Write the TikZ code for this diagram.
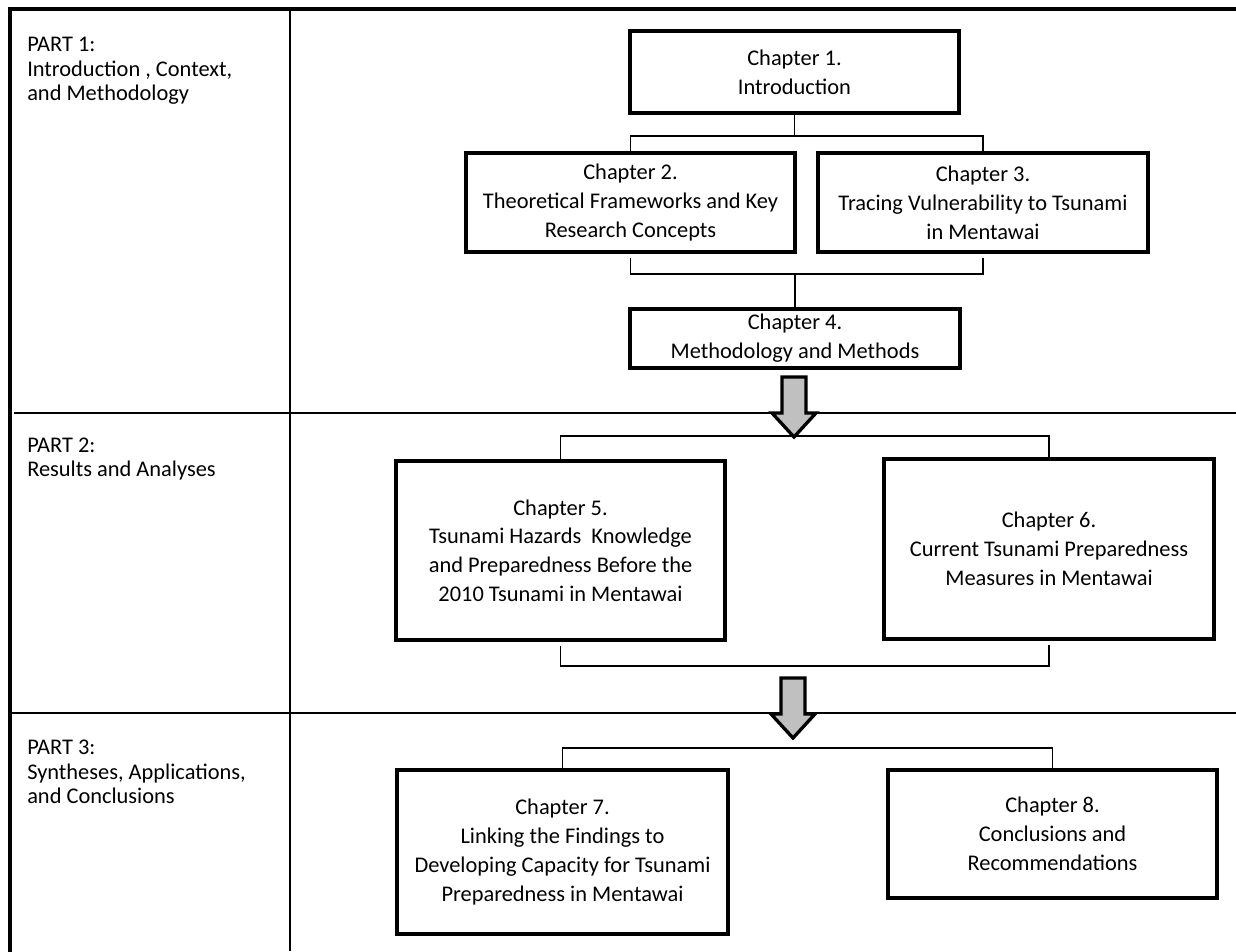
\documentclass[tikz,border=0pt]{standalone}
\usepackage{fontspec}
\setmainfont{Carlito}
\newcommand{\diagfont}{\fontsize{16.8pt}{21.6pt}\selectfont}
\newcommand{\partfont}{\fontsize{16.8pt}{18.4pt}\selectfont}
\definecolor{arrowgray}{RGB}{192,192,192}
\tikzset{
  frame/.style={line width=2.8pt, line join=miter, line cap=rect},
  divider/.style={line width=1.5pt},
  chap/.style={draw, line width=2.6pt, align=center, inner sep=0pt, font=\diagfont},
  boxsize/.style 2 args={minimum width=0.75pt*#1, minimum height=0.75pt*#2},
  partlabel/.style={anchor=west, align=left, inner sep=0pt, font=\partfont},
  link/.style={line width=1.2pt},
  downblock/.pic={
    \draw[line width=2.5pt, fill=arrowgray, line join=miter]
      (-12,0) -- (12,0) -- (12,36) -- (22,36) -- (0,60) -- (-22,36) -- (-12,36) -- cycle;
  }
}
\begin{document}
\begin{tikzpicture}[x=0.75pt,y=-0.75pt]
\useasboundingbox (0,0) rectangle (1236,951);

% table frame and grid
\draw[frame] (10,951) -- (10,9) -- (1236,9);
\draw[divider] (290,9) -- (290,951);
\draw[divider] (14,413) -- (1236,413);
\draw[divider] (12,713) -- (1236,713);

% part headings
\node[partlabel] (p1) at (27,71) {PART 1:\\Introduction , Context,\\and Methodology};
\node[partlabel] (p2) at (27,459) {PART 2:\\Results and Analyses};
\node[partlabel] (p3) at (27,772) {PART 3:\\Syntheses, Applications,\\and Conclusions};

% chapter boxes
\node[chap, boxsize={329}{82}] (ch1) at (794.5,72) {Chapter 1.\\Introduction};
\node[chap, boxsize={329}{99}] (ch2) at (630.5,202.5) {Chapter 2.\\Theoretical Frameworks and Key\\Research Concepts};
\node[chap, boxsize={330}{99}] (ch3) at (983,202.5) {Chapter 3.\\Tracing Vulnerability to Tsunami\\in Mentawai};
\node[chap, boxsize={330}{59}] (ch4) at (795,338.5) {Chapter 4.\\Methodology and Methods};
\node[chap, boxsize={329}{179}] (ch5) at (560.5,550.5) {Chapter 5.\\Tsunami Hazards\ \ Knowledge\\and Preparedness Before the\\2010 Tsunami in Mentawai};
\node[chap, boxsize={330}{180}] (ch6) at (1049,549) {Chapter 6.\\Current Tsunami Preparedness\\Measures in Mentawai};
\node[chap, boxsize={331}{164}] (ch7) at (562.5,852) {Chapter 7.\\Linking the Findings to\\Developing Capacity for Tsunami\\Preparedness in Mentawai};
\node[chap, boxsize={329}{128}] (ch8) at (1052.5,834) {Chapter 8.\\Conclusions and\\Recommendations};

% bracket junction levels
\coordinate (j1) at (794.5,136);
\coordinate (j2) at (795,274);
\coordinate (j3) at (800,436);
\coordinate (j4) at (800,666);
\coordinate (j5) at (800,748);

% part 1 connectors
\draw[link] (ch1.south) -- (j1);
\draw[link] (ch2.north) -- (ch2.north |- j1) -- (ch3.north |- j1) -- (ch3.north);
\draw[link] ([yshift=-3pt]ch2.south) -- (ch2.south |- j2) -- (ch3.south |- j2) -- ([yshift=-3pt]ch3.south);
\draw[link] (ch4.north |- j2) -- (ch4.north);

% part 2 connectors
\draw[link] (ch5.north) -- (ch5.north |- j3) -- (ch6.north |- j3) -- (ch6.north);
\draw[link] ([yshift=-3pt]ch5.south) -- (ch5.south |- j4) -- (ch6.south |- j4) -- ([yshift=-3pt]ch6.south);

% part 3 connectors
\draw[link] (ch7.north) -- (ch7.north |- j5) -- (ch8.north |- j5) -- (ch8.north);

% block arrows between parts
\pic at (794,377) {downblock};
\pic at (793,678) {downblock};
\end{tikzpicture}
\end{document}
